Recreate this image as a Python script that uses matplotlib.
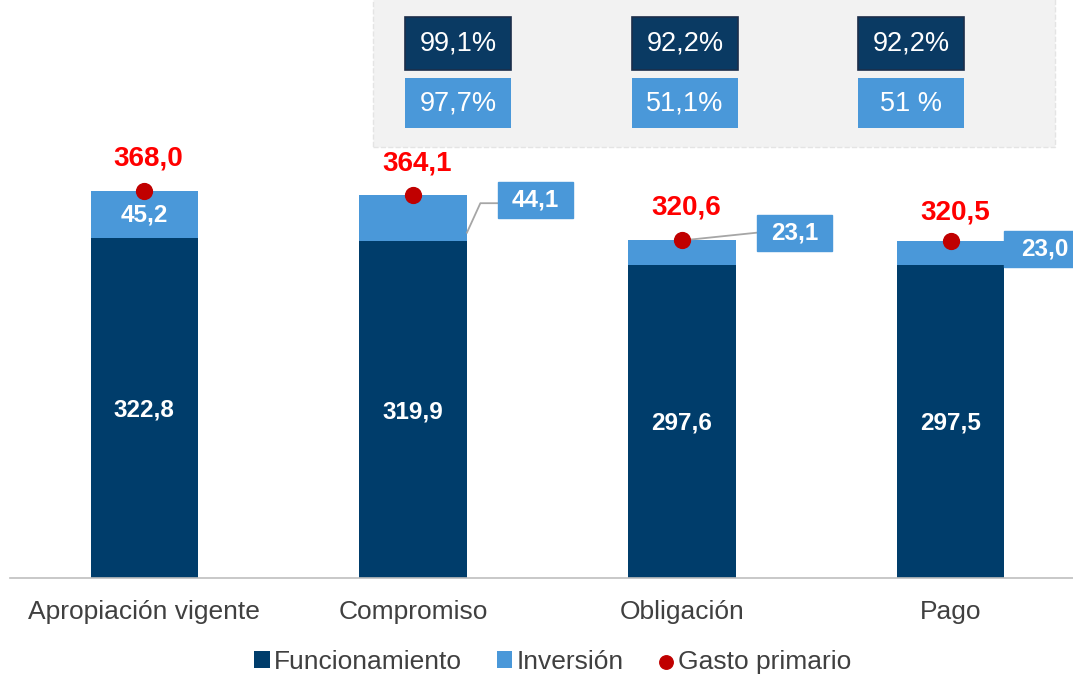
import matplotlib.pyplot as plt
from matplotlib.patches import FancyBboxPatch, Rectangle
import numpy as np

plt.rcParams['font.family'] = ['Liberation Sans', 'DejaVu Sans']

categories = ["Apropiación vigente", "Compromiso", "Obligación", "Pago"]
funcionamiento = [322.8, 319.9, 297.6, 297.5]
inversion = [45.2, 44.1, 23.1, 23.0]
gasto_primario = [368.0, 364.1, 320.6, 320.5]
pct_funcionamiento = ["99,1%", "92,2%", "92,2%"]
pct_inversion = ["97,7%", "51,1%", "51 %"]

DARK = "#003D6B"
LIGHT = "#4A98D9"
RED_DOT = "#C00000"
RED_TXT = "#FF0000"

fig = plt.figure(figsize=(10.73, 6.75), dpi=100)
ax = fig.add_axes([10 / 1073, 97 / 675, 1063 / 1073, 578 / 675])
x = np.arange(len(categories))
w = 0.4

h_f = ax.bar(x, funcionamiento, width=w, color=DARK, label="Funcionamiento", zorder=2)
h_i = ax.bar(x, inversion, width=w, bottom=funcionamiento, color=LIGHT,
             label="Inversión", zorder=2)
h_g = ax.scatter(x, gasto_primario, s=130, color=RED_DOT, zorder=4, label="Gasto primario")

ax.set_xlim(-0.5, 3.455)
ax.set_ylim(0, 549)

fmt = lambda v: f"{v:.1f}".replace(".", ",")

red_offset = [30, 30, 31, 26.5]
for i in range(len(x)):
    ax.text(x[i], funcionamiento[i] / 2 - 2, fmt(funcionamiento[i]),
            ha="center", va="center", color="white", fontsize=17.5, fontweight="bold", zorder=5)
    ax.text(x[i] + 0.015, gasto_primario[i] + red_offset[i], fmt(gasto_primario[i]),
            ha="center", va="center", color=RED_TXT, fontsize=20, fontweight="bold", zorder=5)

# label of first inversion segment, inside bar
ax.text(x[0], funcionamiento[0] + inversion[0] / 2 - 1, fmt(inversion[0]), ha="center", va="center",
        color="white", fontsize=17.5, fontweight="bold", zorder=5)

# callout labels for the other inversion segments
callouts = [(1, 1.456, 359.0, 1.456), (2, 2.419, 328.0, 2.419), (3, 3.337, 312.5, 3.35)]
for i, bx, by, tx in callouts:
    bw = 0.28
    ax.add_patch(Rectangle((bx - bw / 2, by - 17), bw, 34, color=LIGHT, zorder=5, clip_on=False))
    ax.text(tx, by, fmt(inversion[i]), ha="center", va="center", color="white",
            fontsize=17.5, fontweight="bold", zorder=6)

ax.plot([x[1] + w / 2, 1.25, 1.316], [328, 356, 356], color="#A6A6A6", lw=1.3, zorder=3)
ax.plot([x[2], 2.279], [320.6, 328], color="#A6A6A6", lw=1.3, zorder=3)

ax.set_xticks(x)
ax.set_xticklabels(categories, fontsize=19, color="#404040")
ax.tick_params(axis="x", length=0, pad=16)
ax.set_yticks([])
for s in ["top", "right", "left"]:
    ax.spines[s].set_visible(False)
ax.spines["bottom"].set_color("#BFBFBF")
ax.spines["bottom"].set_linewidth(1.2)

# grey summary box
fig.patches.append(FancyBboxPatch((373 / 1073, 528 / 675), 682 / 1073, 160 / 675,
                                  boxstyle="square,pad=0", transform=fig.transFigure,
                                  facecolor="#F2F2F2", edgecolor="#E4E4E4", lw=1,
                                  linestyle="--", zorder=0))
box_x = [405, 632, 858]
for j in range(3):
    fig.patches.append(Rectangle((box_x[j] / 1073, (675 - 70) / 675), 106 / 1073, 53 / 675,
                                 transform=fig.transFigure, facecolor="#0A3A63",
                                 edgecolor="#1C2E4A", lw=1.2, zorder=1))
    fig.text((box_x[j] + 53) / 1073, (675 - 44) / 675, pct_funcionamiento[j],
             ha="center", va="center", color="white", fontsize=19.5)
    fig.patches.append(Rectangle((box_x[j] / 1073, (675 - 128) / 675), 106 / 1073, 50 / 675,
                                 transform=fig.transFigure, facecolor=LIGHT,
                                 edgecolor="none", zorder=1))
    fig.text((box_x[j] + 53) / 1073, (675 - 104) / 675, pct_inversion[j],
             ha="center", va="center", color="white", fontsize=19.5)

leg = fig.legend([h_f, h_i, h_g], ["Funcionamiento", "Inversión", "Gasto primario"],
                 loc="lower center", bbox_to_anchor=(0.515, -0.033), ncol=3, frameon=False,
                 fontsize=19, handlelength=0.6, handleheight=0.6, handletextpad=0.15,
                 columnspacing=1.3, markerscale=0.85)
for t in leg.get_texts():
    t.set_color("#404040")

fig.savefig("out.png", dpi=100)
